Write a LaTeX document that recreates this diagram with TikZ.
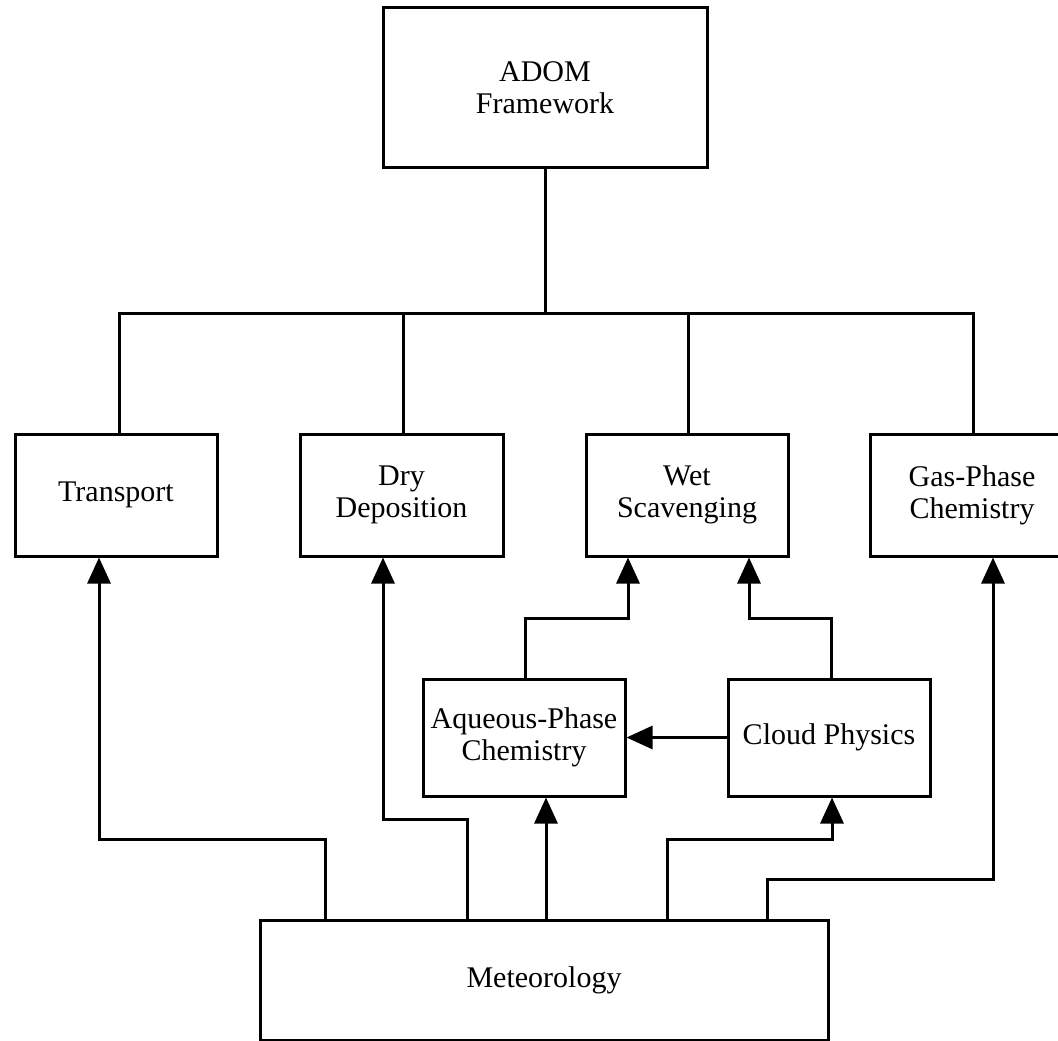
\documentclass[tikz,border=0pt]{standalone}
\usepackage{fontspec}
\setmainfont{Liberation Serif}
\usetikzlibrary{arrows.meta}
\begin{document}
\begin{tikzpicture}[x=1pt,y=-1pt,
  box/.style={draw,line width=3pt,inner sep=0pt,align=center,
    font=\fontsize{30}{32}\selectfont},
  conn/.style={line width=3pt},
  arr/.style={line width=3pt,-{Triangle[length=26pt,width=23pt]}}]
\useasboundingbox (0,0) rectangle (1058,1041);
\clip (0,0) rectangle (1058,1041);
\fill[white] (0,0) rectangle (1058,1041);
% boxes
\node[box,minimum width=324pt,minimum height=159pt] (adom) at (545,87.5) {ADOM\\Framework};
\node[box,minimum width=202pt,minimum height=122pt] (trans) at (116,495) {Transport};
\node[box,minimum width=203pt,minimum height=122pt] (dry) at (401.5,495) {Dry\\Deposition};
\node[box,minimum width=202pt,minimum height=122pt] (wet) at (687,495) {Wet\\Scavenging};
\node[box,minimum width=204pt,minimum height=122pt] (gas) at (972,495) {Gas-Phase\\Chemistry};
\node[box,minimum width=202pt,minimum height=117pt] (aq) at (524,737.5) {Aqueous-Phase\\Chemistry};
\node[box,minimum width=202pt,minimum height=117pt] (cloud) at (829,737.5) {Cloud Physics};
\node[box,minimum width=568pt,minimum height=120pt] (met) at (544,980) {Meteorology};
% tree
\coordinate (bar) at (545,313);
\draw[conn] (adom.south) -- (bar);
\draw[conn] ([xshift=3pt]trans.north) |- ([xshift=1pt]gas.north |- bar) -- ([xshift=1pt]gas.north);
\draw[conn] ([xshift=1.5pt]dry.north) -- ([xshift=1.5pt]dry.north |- bar);
\draw[conn] ([xshift=1pt]wet.north) -- ([xshift=1pt]wet.north |- bar);
% bends
\coordinate (b1) at (99,839);
\coordinate (b2) at (383,819);
\coordinate (b3) at (832,839);
\coordinate (b4) at (993,879);
\coordinate (b5) at (628,618);
\coordinate (b6) at (749,618);
% arrows
\draw[arr] ([xshift=-219pt]met.north) |- (b1) -- (b1 |- trans.south);
\draw[arr] ([xshift=-77pt]met.north) |- (b2) -- (b2 |- dry.south);
\draw[arr] ([xshift=2pt]met.north) -- ([xshift=2pt]met.north |- aq.south);
\draw[arr] ([xshift=123pt]met.north) |- (b3) -- (b3 |- cloud.south);
\draw[arr] ([xshift=223pt]met.north) |- (b4) -- (b4 |- gas.south);
\draw[arr] ([xshift=1pt]aq.north) |- (b5) -- (b5 |- wet.south);
\draw[arr] ([xshift=2pt]cloud.north) |- (b6) -- (b6 |- wet.south);
\draw[arr] (cloud.west) -- (aq.east);
\end{tikzpicture}
\end{document}
